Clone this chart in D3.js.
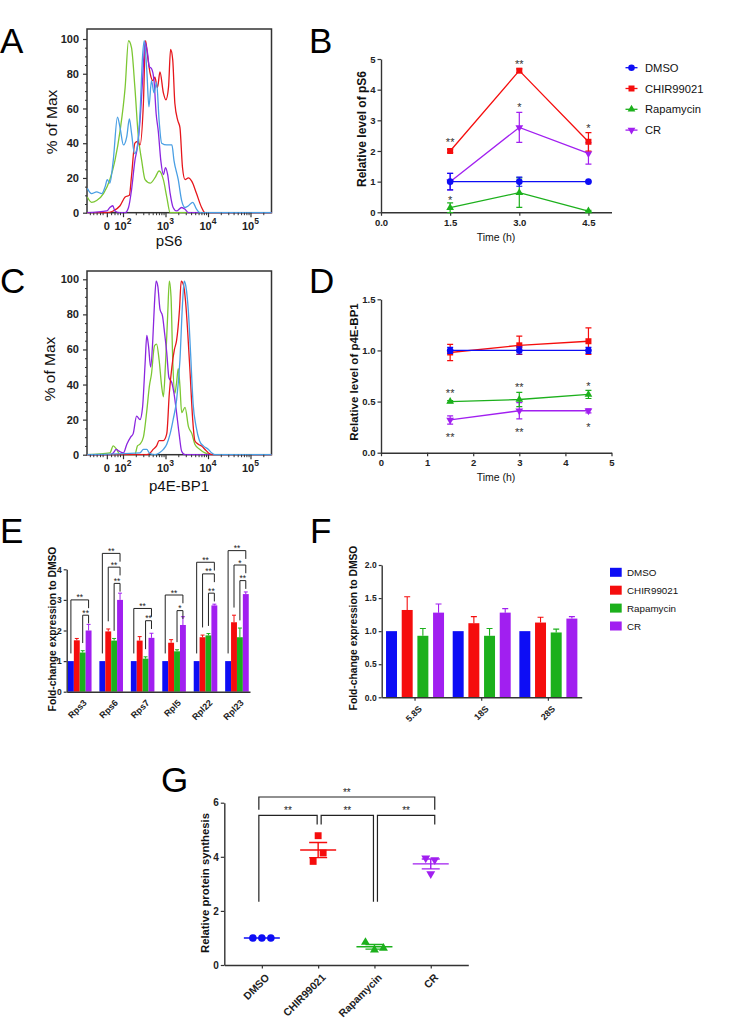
<!DOCTYPE html>
<html><head><meta charset="utf-8">
<script src="https://cdn.jsdelivr.net/npm/d3@7"></script>
<style>body{margin:0;background:#fff}svg{display:block}</style>
</head><body><svg id="fig" width="732" height="1026"></svg>
<script>
// ================= DATA =================
const groups = ["DMSO", "CHIR99021", "Rapamycin", "CR"];

// Flow histograms (x = display decade position, y = % of Max)
const flowDecades = [2, 3, 4, 5];
const flowZero = 1.62;
const pctTicks = [0, 20, 40, 60, 80, 100];

const pS6_Rapamycin = [[1.16,9],[1.26,6],[1.38,7],[1.54,11],[1.69,19],[1.81,30],[1.93,47],[2.05,72],[2.13,99],[2.20,95],[2.28,72],[2.36,44],[2.44,30],[2.52,19],[2.64,17],[2.75,20],[2.85,24],[2.95,19],[3.03,9],[3.11,0]];
const pS6_CHIR99021 = [[1.16,0],[1.62,0],[1.77,1],[1.93,4],[2.05,9],[2.15,10],[2.20,21],[2.28,40],[2.34,41],[2.40,39],[2.48,63],[2.53,99],[2.58,90],[2.64,80],[2.70,76],[2.75,78],[2.81,72],[2.87,81],[2.95,69],[3.01,65],[3.07,72],[3.12,94],[3.17,88],[3.22,63],[3.29,53],[3.34,49],[3.40,26],[3.46,19],[3.54,20],[3.62,18],[3.73,11],[3.85,3],[3.93,0]];
const pS6_CR = [[1.16,0],[1.62,1],[1.69,3],[1.76,4],[1.81,1],[1.93,0],[2.05,0],[2.13,3],[2.20,13],[2.28,30],[2.34,38],[2.40,53],[2.46,76],[2.52,98],[2.57,93],[2.62,84],[2.67,83],[2.73,76],[2.78,57],[2.83,47],[2.89,30],[2.95,22],[3.00,26],[3.05,22],[3.11,11],[3.18,3],[3.26,1],[3.38,3],[3.46,2],[3.54,0]];
const pS6_DMSO = [[1.16,14],[1.26,11],[1.38,12],[1.50,11],[1.58,15],[1.63,19],[1.69,17],[1.77,30],[1.87,55],[1.93,49],[2.01,39],[2.09,44],[2.15,54],[2.20,46],[2.27,34],[2.32,36],[2.40,57],[2.46,90],[2.50,99],[2.56,82],[2.61,61],[2.67,76],[2.73,69],[2.79,75],[2.85,53],[2.91,40],[3.03,39],[3.15,39],[3.20,30],[3.30,19],[3.38,7],[3.46,3],[3.54,4],[3.64,6],[3.73,2],[3.81,0]];

const p4E_Rapamycin = [[1.16,0],[1.69,1],[1.77,5],[1.85,3],[1.93,0],[2.28,0],[2.34,5],[2.40,6],[2.48,10],[2.56,25],[2.62,39],[2.67,46],[2.74,62],[2.79,63],[2.85,54],[2.91,39],[2.95,33],[3.00,52],[3.05,79],[3.09,99],[3.13,90],[3.17,54],[3.22,35],[3.26,41],[3.30,49],[3.34,39],[3.38,24],[3.46,27],[3.54,16],[3.62,12],[3.69,6],[3.81,3],[3.93,1],[4.05,0]];
const p4E_CR = [[1.16,0],[1.69,0],[1.77,1],[1.84,3],[1.91,2],[2.01,1],[2.09,6],[2.18,10],[2.24,12],[2.32,22],[2.40,20],[2.46,27],[2.52,52],[2.56,68],[2.60,62],[2.65,50],[2.70,65],[2.74,86],[2.78,99],[2.82,96],[2.87,83],[2.93,79],[2.98,69],[3.03,58],[3.08,44],[3.15,41],[3.20,35],[3.26,24],[3.32,12],[3.38,2],[3.46,0]];
const p4E_CHIR99021 = [[1.16,0],[2.56,0],[2.64,1],[2.71,3],[2.79,5],[2.85,8],[2.95,8],[3.03,12],[3.09,35],[3.15,50],[3.21,60],[3.26,65],[3.33,83],[3.37,99],[3.42,97],[3.47,88],[3.52,71],[3.58,46],[3.64,20],[3.69,8],[3.77,6],[3.85,5],[3.93,3],[4.01,1],[4.13,0]];
const p4E_DMSO = [[1.16,0],[2.40,1],[2.48,3],[2.56,3],[2.62,1],[2.75,0],[2.85,1],[2.95,3],[3.03,6],[3.11,12],[3.18,20],[3.26,31],[3.34,54],[3.40,86],[3.44,99],[3.48,96],[3.54,81],[3.59,58],[3.65,29],[3.72,16],[3.80,8],[3.89,5],[4.01,3],[4.09,1],[4.16,0]];

// B: relative pS6 over time
const timePts = [1.5, 3.0, 4.5];
const pS6_mean_DMSO = [1.0, 1.0, 1.0],   pS6_sem_DMSO = [0.27, 0.15, 0.02];
const pS6_mean_CHIR = [2.0, 4.62, 2.30], pS6_sem_CHIR = [0.05, 0.06, 0.30];
const pS6_mean_Rapa = [0.15, 0.64, 0.04], pS6_sem_Rapa = [0.16, 0.48, 0.02];
const pS6_mean_CR   = [1.0, 2.77, 1.92], pS6_sem_CR   = [0.27, 0.49, 0.35];
const pS6_stars = [[1.5, 2.38, "**"], [1.5, 0.48, "*"], [3.0, 4.91, "**"], [3.0, 3.50, "*"], [4.5, 2.82, "*"]];
const pS6_yTicks = [0, 1, 2, 3, 4, 5];
const pS6_xTicks = [0, 1.5, 3.0, 4.5];

// D: relative p4E-BP1 over time
const p4E_mean_DMSO = [1.0, 1.0, 1.0],    p4E_sem_DMSO = [0.03, 0.035, 0.03];
const p4E_mean_CHIR = [0.98, 1.05, 1.09], p4E_sem_CHIR = [0.08, 0.09, 0.13];
const p4E_mean_Rapa = [0.50, 0.52, 0.57], p4E_sem_Rapa = [0.01, 0.07, 0.04];
const p4E_mean_CR   = [0.32, 0.41, 0.41], p4E_sem_CR   = [0.04, 0.08, 0.02];
const p4E_stars = [[1.5, 0.61, "**"], [1.5, 0.18, "**"], [3.0, 0.67, "**"], [3.0, 0.23, "**"], [4.5, 0.68, "*"], [4.5, 0.27, "*"]];
const p4E_yTicks = [0, 0.5, 1.0, 1.5];
const p4E_xTicks = [0, 1, 2, 3, 4, 5];

// E: ribosomal protein genes
const rpGenes = ["Rps3", "Rps6", "Rps7", "Rpl5", "Rpl22", "Rpl23"];
const E_DMSO = [1, 1, 1, 1, 1, 1],                       E_DMSO_err = [0, 0, 0, 0, 0, 0];
const E_CHIR = [1.68, 1.97, 1.67, 1.60, 1.78, 2.27],     E_CHIR_err = [0.06, 0.08, 0.13, 0.10, 0.07, 0.23];
const E_Rapa = [1.28, 1.67, 1.08, 1.32, 1.84, 1.78],     E_Rapa_err = [0.06, 0.07, 0.06, 0.05, 0.06, 0.30];
const E_CR   = [2.00, 3.00, 1.76, 2.18, 2.82, 3.19],     E_CR_err   = [0.20, 0.22, 0.15, 0.27, 0.04, 0.07];
const E_yTicks = [0, 1, 2, 3, 4];
const E_brackets = [
  ["Rps3", "DMSO", 3.0, "**"], ["Rps3", "Rapamycin", 2.5, "**"],
  ["Rps6", "DMSO", 4.52, "**"], ["Rps6", "CHIR99021", 4.07, "**"], ["Rps6", "Rapamycin", 3.54, "**"],
  ["Rps7", "DMSO", 2.72, "**"], ["Rps7", "Rapamycin", 2.32, "**"],
  ["Rpl5", "DMSO", 3.16, "**"], ["Rpl5", "Rapamycin", 2.65, "*"],
  ["Rpl22", "DMSO", 4.23, "**"], ["Rpl22", "CHIR99021", 3.85, "**"], ["Rpl22", "Rapamycin", 3.22, "**"],
  ["Rpl23", "DMSO", 4.61, "**"], ["Rpl23", "CHIR99021", 4.14, "*"], ["Rpl23", "Rapamycin", 3.63, "**"]
];

// F: rRNA
const rRNA = ["5.8S", "18S", "28S"];
const F_DMSO = [1, 1, 1],          F_DMSO_err = [0, 0, 0];
const F_CHIR = [1.32, 1.12, 1.13], F_CHIR_err = [0.20, 0.10, 0.08];
const F_Rapa = [0.93, 0.93, 0.98], F_Rapa_err = [0.11, 0.11, 0.05];
const F_CR   = [1.28, 1.28, 1.19], F_CR_err   = [0.13, 0.06, 0.03];
const F_yTicks = [0, 0.5, 1.0, 1.5, 2.0];

// G: relative protein synthesis (replicates)
const G_DMSO = [1.0, 1.0, 1.0];
const G_CHIR = [4.78, 4.14, 3.83];
const G_Rapa = [0.84, 0.56, 0.62];
const G_CR   = [3.95, 3.89, 3.37];
const G_yTicks = [0, 2, 4, 6];
// [from, to, level, leftLegBottom, rightLegBottom, label]
const G_brackets = [
  [0, 3, 6.21, 5.74, 5.74, "**"],
  [0, 1, 5.53, 2.34, 5.19, "**"],
  [1, 2, 5.53, 5.19, 2.34, "**"],
  [2, 3, 5.53, 2.34, 5.19, "**"]
];

// ================= STYLE =================
const FONT = "Arial, 'Liberation Sans', sans-serif";
const COL = {DMSO: "#0d0df5", CHIR99021: "#f50d0d", Rapamycin: "#1cb01c", CR: "#a11ff0"};
const FLOW = {DMSO: "#4a9fe4", CHIR99021: "#e6161b", Rapamycin: "#7cc733", CR: "#8b26df"};
const AX = "#333";
const svg = d3.select("#fig");
svg.append("rect").attr("width", 732).attr("height", 1026).attr("fill", "#fff");

function styleAxis(g, fs) {
  g.attr("font-family", FONT);
  g.select(".domain").attr("stroke", AX).attr("stroke-width", 1.4);
  g.selectAll(".tick line").attr("stroke", AX).attr("stroke-width", 1.2);
  g.selectAll(".tick text").attr("font-size", fs).attr("font-weight", "bold").attr("fill", "#222");
}
function vtitle(t, cx, cy, fs, bold) {
  svg.append("text").attr("transform", `translate(${cx},${cy}) rotate(-90)`)
    .attr("text-anchor", "middle").attr("dy", "0.35em")
    .attr("font-family", FONT).attr("font-size", fs).attr("font-weight", bold ? "bold" : "normal")
    .attr("fill", "#111").text(t);
}
function letter(t, x, y) {
  svg.append("text").attr("x", x).attr("y", y).attr("font-family", FONT).attr("font-size", 35).attr("fill", "#000").text(t);
}
function symbolFor(g) {
  if (g === "DMSO") return d3.symbol().type(d3.symbolCircle).size(34)();
  if (g === "CHIR99021") return d3.symbol().type(d3.symbolSquare).size(36)();
  if (g === "Rapamycin") return d3.symbol().type(d3.symbolTriangle).size(26)();
  return d3.symbol().type(d3.symbolTriangle).size(26)();
}
function drawMarker(sel, g, x, y, scale) {
  const s = scale || 1;
  const rot = g === "CR" ? " rotate(180)" : "";
  sel.append("path").attr("d", symbolFor(g)).attr("transform", `translate(${x},${y}) scale(${s})${rot}`).attr("fill", COL[g]);
}

// ================= FLOW PANELS (A, C) =================
function flowPanel(o) {
  const xL = 87, xR = 271.5;
  const x = d3.scaleLinear().domain([2, 5]).range([123, 250.5]);
  const y = d3.scaleLinear().domain([0, 100]).range([o.y0, o.y100]);
  const clipId = o.id + "clip";
  svg.append("clipPath").attr("id", clipId).append("rect")
    .attr("x", xL).attr("y", o.top).attr("width", xR - xL).attr("height", o.y0 - o.top + 1);
  const line = d3.line().x(d => x(d[0])).y(d => y(d[1])).curve(d3.curveMonotoneX);
  // box
  svg.append("rect").attr("x", xL).attr("y", o.top).attr("width", xR - xL).attr("height", o.y0 - o.top)
    .attr("fill", "none").attr("stroke", AX).attr("stroke-width", 1.5);
  const g = svg.append("g").attr("clip-path", `url(#${clipId})`);
  o.series.forEach(s => {
    const pts = s.data.concat([[5.6, 0]]);
    g.append("path").attr("d", line(pts)).attr("fill", "none").attr("stroke", FLOW[s.name]).attr("stroke-width", 1.3);
  });
  // y axis
  const gy = svg.append("g").attr("transform", `translate(${xL},0)`)
    .call(d3.axisLeft(y).tickValues(pctTicks).tickSize(4).tickPadding(4));
  styleAxis(gy, 11); gy.select(".domain").remove();
  const minorY = d3.range(5, 100, 5).filter(v => v % 20 !== 0);
  const gym = svg.append("g").attr("transform", `translate(${xL},0)`)
    .call(d3.axisLeft(y).tickValues(minorY).tickSize(2).tickFormat(""));
  gym.select(".domain").remove(); gym.selectAll(".tick line").attr("stroke", AX).attr("stroke-width", 1);
  // x axis ticks
  const major = [flowZero].concat(flowDecades);
  const gx = svg.append("g").attr("transform", `translate(0,${o.y0})`)
    .call(d3.axisBottom(x).tickValues(major).tickSize(4.5).tickFormat(""));
  gx.select(".domain").remove(); gx.selectAll(".tick line").attr("stroke", AX).attr("stroke-width", 1.2);
  const minorX = [1.22, 1.3, 1.38, 1.46, 1.52, 1.72, 1.8, 1.87, 1.93];
  [2, 3, 4].forEach(k => d3.range(2, 10).forEach(m => minorX.push(k + Math.log10(m))));
  minorX.push(5 + Math.log10(2));
  const gxm = svg.append("g").attr("transform", `translate(0,${o.y0})`)
    .call(d3.axisBottom(x).tickValues(minorX.filter(v => x(v) < xR - 1)).tickSize(2.5).tickFormat(""));
  gxm.select(".domain").remove(); gxm.selectAll(".tick line").attr("stroke", AX).attr("stroke-width", 1);
  // x labels
  const ly = o.y0 + 17;
  svg.append("text").attr("x", x(flowZero)).attr("y", ly).attr("text-anchor", "middle")
    .attr("font-family", FONT).attr("font-size", 11).attr("font-weight", "bold").attr("fill", "#222").text("0");
  flowDecades.forEach(k => {
    const t = svg.append("text").attr("x", x(k)).attr("y", ly).attr("text-anchor", "middle")
      .attr("font-family", FONT).attr("font-size", 11).attr("font-weight", "bold").attr("fill", "#222");
    t.append("tspan").text("10");
    t.append("tspan").attr("dy", -6).attr("font-size", 8.5).text(k);
  });
  svg.append("text").attr("x", o.titleX).attr("y", o.titleY).attr("text-anchor", "middle")
    .attr("font-family", FONT).attr("font-size", 15).attr("fill", "#111").text(o.title);
  vtitle("% of Max", o.yTitleX, o.yTitleY, 15.5, false);
}

flowPanel({id: "A", top: 29, y100: 39, y0: 212.7, title: "pS6", titleX: 169, titleY: 246, yTitleX: 52, yTitleY: 122,
  series: [{name: "Rapamycin", data: pS6_Rapamycin}, {name: "CHIR99021", data: pS6_CHIR99021},
           {name: "CR", data: pS6_CR}, {name: "DMSO", data: pS6_DMSO}]});
flowPanel({id: "C", top: 271, y100: 279.3, y0: 454.7, title: "p4E-BP1", titleX: 179, titleY: 491, yTitleX: 50, yTitleY: 369,
  series: [{name: "Rapamycin", data: p4E_Rapamycin}, {name: "CR", data: p4E_CR},
           {name: "CHIR99021", data: p4E_CHIR99021}, {name: "DMSO", data: p4E_DMSO}]});

// ================= LINE PANELS (B, D) =================
function linePanel(o) {
  const x = d3.scaleLinear().domain([0, 5]).range([381, 611.5]);
  const y = d3.scaleLinear().domain(o.yDom).range([o.y0, o.yTop]);
  const gx = svg.append("g").attr("transform", `translate(0,${o.y0})`)
    .call(d3.axisBottom(x).tickValues(o.xTicks).tickFormat(d3.format(o.xFmt)).tickSize(3.5).tickSizeOuter(0).tickPadding(3));
  styleAxis(gx, 9.5);
  const gy = svg.append("g").attr("transform", "translate(381,0)")
    .call(d3.axisLeft(y).tickValues(o.yTicks).tickFormat(d3.format(o.yFmt)).tickSize(3.5).tickSizeOuter(0).tickPadding(2));
  styleAxis(gy, 9.5);
  const layer = svg.append("g");
  o.series.forEach(s => {
    const pts = timePts.map((t, i) => ({t: t, m: s.mean[i], e: s.sem[i]}));
    layer.append("path").attr("d", d3.line().x(d => x(d.t)).y(d => y(d.m))(pts))
      .attr("fill", "none").attr("stroke", COL[s.name]).attr("stroke-width", 1.3);
    pts.forEach(p => {
      if (p.e > 0) {
        const cx = x(p.t), y1 = y(p.m + p.e), y2 = y(p.m - p.e);
        layer.append("path").attr("d", `M${cx},${y1}V${y2}M${cx - 3},${y1}h6M${cx - 3},${y2}h6`)
          .attr("stroke", COL[s.name]).attr("stroke-width", 1.2).attr("fill", "none");
      }
      drawMarker(layer, s.name, x(p.t), y(p.m), 1);
    });
  });
  o.stars.forEach(st => {
    svg.append("text").attr("x", x(st[0])).attr("y", y(st[1]) + 6.4).attr("text-anchor", "middle")
      .attr("font-family", FONT).attr("font-size", 11).attr("fill", "#333").text(st[2]);
  });
  svg.append("text").attr("x", 496).attr("y", o.y0 + 28.7).attr("text-anchor", "middle")
    .attr("font-family", FONT).attr("font-size", 10.5).attr("fill", "#111").text("Time (h)");
  vtitle(o.ytitle, o.ytX, o.ytY, o.ytFs, true);
}

linePanel({y0: 212.3, yTop: 59, yDom: [0, 5], yTicks: pS6_yTicks, yFmt: "d", xTicks: pS6_xTicks, xFmt: ".1f",
  stars: pS6_stars, ytitle: "Relative level of pS6", ytX: 362, ytY: 129, ytFs: 12,
  series: [{name: "CR", mean: pS6_mean_CR, sem: pS6_sem_CR}, {name: "Rapamycin", mean: pS6_mean_Rapa, sem: pS6_sem_Rapa},
           {name: "CHIR99021", mean: pS6_mean_CHIR, sem: pS6_sem_CHIR}, {name: "DMSO", mean: pS6_mean_DMSO, sem: pS6_sem_DMSO}]});
linePanel({y0: 452.7, yTop: 299.3, yDom: [0, 1.5], yTicks: p4E_yTicks, yFmt: ".1f", xTicks: p4E_xTicks, xFmt: "d",
  stars: p4E_stars, ytitle: "Relative level of p4E-BP1", ytX: 354, ytY: 372, ytFs: 11.5,
  series: [{name: "CR", mean: p4E_mean_CR, sem: p4E_sem_CR}, {name: "Rapamycin", mean: p4E_mean_Rapa, sem: p4E_sem_Rapa},
           {name: "CHIR99021", mean: p4E_mean_CHIR, sem: p4E_sem_CHIR}, {name: "DMSO", mean: p4E_mean_DMSO, sem: p4E_sem_DMSO}]});

// Legend B
groups.forEach((gname, i) => {
  const cy = 67.7 + i * 20.8;
  svg.append("line").attr("x1", 625.5).attr("x2", 637.5).attr("y1", cy).attr("y2", cy)
    .attr("stroke", COL[gname]).attr("stroke-width", 1.3);
  drawMarker(svg, gname, 631.5, cy, 1);
  svg.append("text").attr("x", 645).attr("y", cy + 4).attr("font-family", FONT).attr("font-size", 11.2)
    .attr("fill", "#111").text(gname);
});

// ================= BAR PANELS (E, F) =================
const E_means = {DMSO: E_DMSO, CHIR99021: E_CHIR, Rapamycin: E_Rapa, CR: E_CR};
const E_errs = {DMSO: E_DMSO_err, CHIR99021: E_CHIR_err, Rapamycin: E_Rapa_err, CR: E_CR_err};
(function panelE() {
  const x0 = d3.scaleBand().domain(rpGenes).range([66.7, 250]).paddingInner(0.25).paddingOuter(0.04);
  const x1 = d3.scaleBand().domain(groups).range([0, x0.bandwidth()]);
  const y = d3.scaleLinear().domain([0, 4]).range([691.7, 569.3]);
  const bw = x1.bandwidth();
  rpGenes.forEach((gene, gi) => {
    groups.forEach(g => {
      const v = E_means[g][gi], e = E_errs[g][gi];
      const bx = x0(gene) + x1(g);
      if (e > 0) {
        const cx = bx + bw / 2;
        svg.append("path").attr("d", `M${cx},${y(v)}V${y(v + e)}M${cx - 2},${y(v + e)}h4`)
          .attr("stroke", COL[g]).attr("stroke-width", 1).attr("fill", "none");
      }
      svg.append("rect").attr("x", bx).attr("y", y(v)).attr("width", bw).attr("height", y(0) - y(v)).attr("fill", COL[g]);
    });
  });
  // brackets
  E_brackets.forEach(b => {
    const gi = rpGenes.indexOf(b[0]);
    const xl = x0(b[0]) + x1(b[1]) + bw / 2;
    const xr = x0(b[0]) + x1("CR") + bw / 2;
    const leftBottom = E_means[b[1]][gi] + E_errs[b[1]][gi] + 0.25;
    const yl = y(b[2]);
    svg.append("path").attr("d", `M${xl},${y(leftBottom)}V${yl}H${xr}V${y(b[2] - 0.27)}`)
      .attr("fill", "none").attr("stroke", "#222").attr("stroke-width", 1);
    svg.append("text").attr("x", (xl + xr) / 2).attr("y", yl + 0.5).attr("text-anchor", "middle")
      .attr("font-family", FONT).attr("font-size", 8.5).attr("fill", "#222").text(b[3]);
  });
  const gx = svg.append("g").attr("transform", "translate(0,691.7)")
    .call(d3.axisBottom(x0).tickSize(0).tickSizeOuter(0).tickFormat(""));
  styleAxis(gx, 9);
  rpGenes.forEach(gene => {
    const cx = x0(gene) + x0.bandwidth() / 2;
    svg.append("text").attr("transform", `translate(${cx + 3},${699}) rotate(-45)`).attr("text-anchor", "end")
      .attr("dy", "0.7em").attr("font-family", FONT).attr("font-size", 9).attr("font-weight", "bold").attr("fill", "#222").text(gene);
  });
  const gy = svg.append("g").attr("transform", "translate(66.7,0)")
    .call(d3.axisLeft(y).tickValues(E_yTicks).tickFormat(d3.format("d")).tickSize(3).tickSizeOuter(0).tickPadding(2));
  styleAxis(gy, 8.5);
  vtitle("Fold-change expression to DMSO", 52, 629, 10.3, true);
})();

const F_means = {DMSO: F_DMSO, CHIR99021: F_CHIR, Rapamycin: F_Rapa, CR: F_CR};
const F_errs = {DMSO: F_DMSO_err, CHIR99021: F_CHIR_err, Rapamycin: F_Rapa_err, CR: F_CR_err};
(function panelF() {
  const x0 = d3.scaleBand().domain(rRNA).range([381.7, 581.7]);
  const x1 = d3.scaleBand().domain(groups).range([-29, 29]).paddingInner(0.3);
  const y = d3.scaleLinear().domain([0, 2]).range([697.3, 565]);
  const bw = x1.bandwidth();
  rRNA.forEach((c, ci) => {
    const cx0 = x0(c) + x0.bandwidth() / 2;
    groups.forEach(g => {
      const v = F_means[g][ci], e = F_errs[g][ci];
      const bx = cx0 + x1(g);
      if (e > 0) {
        const cx = bx + bw / 2;
        svg.append("path").attr("d", `M${cx},${y(v)}V${y(v + e)}M${cx - 3},${y(v + e)}h6`)
          .attr("stroke", COL[g]).attr("stroke-width", 1.1).attr("fill", "none");
      }
      svg.append("rect").attr("x", bx).attr("y", y(v)).attr("width", bw).attr("height", y(0) - y(v)).attr("fill", COL[g]);
    });
  });
  const gx = svg.append("g").attr("transform", "translate(0,697.3)")
    .call(d3.axisBottom(x0).tickSize(3.5).tickSizeOuter(0).tickFormat(""));
  styleAxis(gx, 9);
  rRNA.forEach(c => {
    const cx = x0(c) + x0.bandwidth() / 2;
    svg.append("text").attr("transform", `translate(${cx + 3},${705}) rotate(-45)`).attr("text-anchor", "end")
      .attr("dy", "0.7em").attr("font-family", FONT).attr("font-size", 9).attr("font-weight", "bold").attr("fill", "#222").text(c);
  });
  const gy = svg.append("g").attr("transform", "translate(381.7,0)")
    .call(d3.axisLeft(y).tickValues(F_yTicks).tickFormat(d3.format(".1f")).tickSize(3).tickSizeOuter(0).tickPadding(2));
  styleAxis(gy, 8.5);
  vtitle("Fold-change expression to DMSO", 353, 628, 10.3, true);
  // legend
  groups.forEach((gname, i) => {
    const cy = 572.3 + i * 17.9;
    svg.append("rect").attr("x", 610).attr("y", cy - 4.5).attr("width", 11.7).attr("height", 9).attr("fill", COL[gname]);
    svg.append("text").attr("x", 627).attr("y", cy + 3.6).attr("font-family", FONT).attr("font-size", 9.8)
      .attr("fill", "#111").text(gname);
  });
})();

// ================= PANEL G =================
(function panelG() {
  const vals = [G_DMSO, G_CHIR, G_Rapa, G_CR];
  const jitter = [[-9, 0, 9], [0, 5, -5], [-9, 0, 9], [-5, 4, 0]];
  const x = d3.scalePoint().domain(groups).range([224.3, 468.3]).padding(0.667);
  const y = d3.scaleLinear().domain([0, 6]).range([965, 802.7]);
  groups.forEach((g, gi) => {
    const v = vals[gi];
    const m = d3.mean(v), sem = d3.deviation(v) / Math.sqrt(v.length);
    const cx = x(g);
    const c = COL[g];
    svg.append("path").attr("d", `M${cx - 18},${y(m)}h36M${cx},${y(m - sem)}V${y(m + sem)}M${cx - 9},${y(m + sem)}h18M${cx - 9},${y(m - sem)}h18`)
      .attr("stroke", c).attr("stroke-width", 1.4).attr("fill", "none");
    v.forEach((d, i) => drawMarker(svg, g, cx + jitter[gi][i], y(d), 1.15));
  });
  G_brackets.forEach(b => {
    const xl = x(groups[b[0]]) + (b[0] === 0 ? -3 : 3);
    const xr = x(groups[b[1]]) + (b[1] === 3 ? 4 : -1);
    svg.append("path").attr("d", `M${xl},${y(b[3])}V${y(b[2])}H${xr}V${y(b[4])}`)
      .attr("fill", "none").attr("stroke", "#222").attr("stroke-width", 1.2);
    svg.append("text").attr("x", (xl + xr) / 2).attr("y", y(b[2]) - 1.5).attr("text-anchor", "middle")
      .attr("font-family", FONT).attr("font-size", 10).attr("fill", "#222").text(b[5]);
  });
  const gx = svg.append("g").attr("transform", "translate(0,965)")
    .call(d3.axisBottom(x).tickSize(3.5).tickSizeOuter(0).tickFormat(""));
  styleAxis(gx, 10);
  groups.forEach(g => {
    svg.append("text").attr("transform", `translate(${x(g) + 3},${973}) rotate(-45)`).attr("text-anchor", "end")
      .attr("dy", "0.7em").attr("font-family", FONT).attr("font-size", 10.5).attr("font-weight", "bold").attr("fill", "#222").text(g);
  });
  const gy = svg.append("g").attr("transform", "translate(224.3,0)")
    .call(d3.axisLeft(y).tickValues(G_yTicks).tickFormat(d3.format("d")).tickSize(3.5).tickSizeOuter(0).tickPadding(2));
  styleAxis(gy, 10);
  vtitle("Relative protein synthesis", 205, 883, 11.3, true);
})();

// ================= PANEL LETTERS =================
letter("A", 0, 53); letter("B", 309, 53);
letter("C", 0, 293); letter("D", 309, 293);
letter("E", 0, 543); letter("F", 310, 543);
letter("G", 161, 792);
</script></body></html>
